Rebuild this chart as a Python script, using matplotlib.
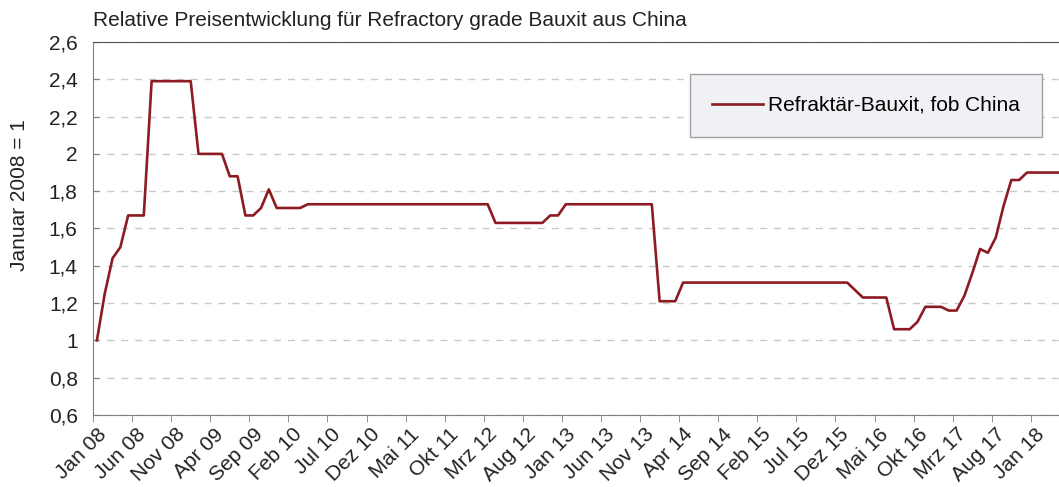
import matplotlib
matplotlib.use("Agg")
import matplotlib.pyplot as plt

plt.rcParams['font.family'] = ['Liberation Sans', 'DejaVu Sans']

# Monatswerte Jan 08 - Apr 18, Januar 2008 = 1
monate = ['Jan', 'Feb', 'Mrz', 'Apr', 'Mai', 'Jun', 'Jul', 'Aug', 'Sep', 'Okt', 'Nov', 'Dez']
jahr_start = 2008

werte = [
    1.00, 1.25, 1.44, 1.50, 1.67, 1.67, 1.67, 2.39, 2.39, 2.39, 2.39, 2.39,
    2.39, 2.00, 2.00, 2.00, 2.00, 1.88, 1.88, 1.67, 1.67, 1.71, 1.81, 1.71,
    1.71, 1.71, 1.71, 1.73, 1.73, 1.73, 1.73, 1.73, 1.73, 1.73, 1.73, 1.73,
    1.73, 1.73, 1.73, 1.73, 1.73, 1.73, 1.73, 1.73, 1.73, 1.73, 1.73, 1.73,
    1.73, 1.73, 1.73, 1.63, 1.63, 1.63, 1.63, 1.63, 1.63, 1.63, 1.67, 1.67,
    1.73, 1.73, 1.73, 1.73, 1.73, 1.73, 1.73, 1.73, 1.73, 1.73, 1.73, 1.73,
    1.21, 1.21, 1.21, 1.31, 1.31, 1.31, 1.31, 1.31, 1.31, 1.31, 1.31, 1.31,
    1.31, 1.31, 1.31, 1.31, 1.31, 1.31, 1.31, 1.31, 1.31, 1.31, 1.31, 1.31,
    1.31, 1.27, 1.23, 1.23, 1.23, 1.23, 1.06, 1.06, 1.06, 1.10, 1.18, 1.18,
    1.18, 1.16, 1.16, 1.24, 1.36, 1.49, 1.47, 1.55, 1.72, 1.86, 1.86, 1.90,
    1.90, 1.90, 1.90, 1.90,
]

y_ticks = [0.6, 0.8, 1.0, 1.2, 1.4, 1.6, 1.8, 2.0, 2.2, 2.4, 2.6]
y_labels = ['0,6', '0,8', '1', '1,2', '1,4', '1,6', '1,8', '2', '2,2', '2,4', '2,6']

labels = []
for i in range(len(werte)):
    jahr = jahr_start + i // 12
    labels.append(f"{monate[i % 12]} {jahr % 100:02d}")

rot = '#8C1C22'
txt = '#222222'
fs = 15

fig = plt.figure(figsize=(10.59, 4.87), dpi=100)
fig.patch.set_facecolor('white')
ax = fig.add_axes([93 / 1059, 1 - 415 / 487, 1 - 93 / 1059, (415 - 42) / 487])

x = list(range(len(werte)))
ax.plot(x, werte, color=rot, lw=1.9, label='Refraktär-Bauxit, fob China', zorder=3)

ax.set_xlim(-0.5, 123.1)
ax.set_ylim(0.6, 2.6)

ax.set_yticks(y_ticks)
ax.set_yticklabels(y_labels, fontsize=fs, color=txt)
ax.tick_params(axis='y', direction='in', length=4, color='#808080', pad=11)

# Beschriftung alle 5 Monate, Teilstriche an den Kategoriegrenzen
pos = list(range(0, len(werte), 5))
ax.set_xticks(pos)
ax.set_xticklabels([labels[p] for p in pos], rotation=45, ha='right',
                   rotation_mode='anchor', fontsize=fs, color=txt)
ax.tick_params(axis='x', length=0, pad=7)
ax.set_xticks([p - 0.5 for p in pos], minor=True)
ax.tick_params(axis='x', which='minor', direction='out', length=5, color='#808080')

ax.grid(axis='y', color='#C8C8C8', linestyle=(0, (5, 5)), lw=1)
ax.set_axisbelow(True)

ax.spines['right'].set_visible(False)
ax.spines['left'].set_color('#808080')
ax.spines['bottom'].set_color('#808080')
ax.spines['top'].set_color('#555555')

fig.text(20 / 1059, 1 - 195 / 487, 'Januar 2008 = 1', fontsize=fs, color=txt,
         rotation=90, ha='center', va='center')

fig.text(93 / 1059, 1 - 20 / 487, 'Relative Preisentwicklung für Refractory grade Bauxit aus China',
         fontsize=fs, color=txt, va='center', ha='left')

leg = ax.legend(loc='upper left', bbox_to_anchor=((690 - 93) / 966, 1 - (74 - 42) / 373),
                fontsize=fs, frameon=True, fancybox=False, borderpad=1.05,
                handlelength=2.45, handletextpad=0.25, borderaxespad=0)
leg.get_frame().set_facecolor('#F0F1F4')
leg.get_frame().set_edgecolor('#A0A0A0')
leg.get_frame().set_alpha(1)

fig.savefig('out.png', dpi=100, facecolor='white')
